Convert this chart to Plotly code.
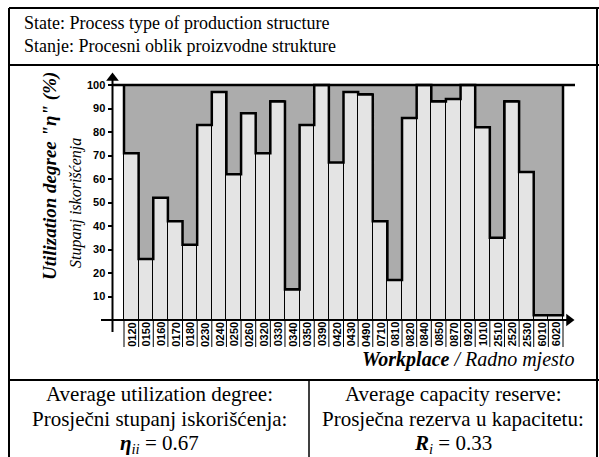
import plotly.graph_objects as go

# workplaces and their utilization degree (%)
workplaces = ["0120", "0150", "0160", "0170", "0180", "0230", "0240", "0250", "0260", "0320",
              "0330", "0340", "0350", "0390", "0420", "0430", "0490", "0710", "0810", "0820",
              "0840", "0850", "0870", "0920", "1010", "2510", "2520", "2530", "6010", "6020"]
utilization = [71, 26, 52, 42, 32, 83, 97, 62, 88, 71,
               93, 13, 83, 100, 67, 97, 96, 42, 17, 86,
               100, 93, 94, 100, 82, 35, 93, 63, 2, 2]
y_ticks = [10, 20, 30, 40, 50, 60, 70, 80, 90, 100]
avg_utilization = 0.67
avg_reserve = 0.33

W, H = 599, 457
n = len(workplaces)
X0_PX, UNIT_PX = 124, 439 / n      # pixel of x=0 and px per bar
Y0_PX, YUNIT_PX = 320, 2.35        # pixel of y=0 and px per percent


def px(x):
    return x / W


def py(y):
    return 1 - y / H


def dx(pix):
    return (pix - X0_PX) / UNIT_PX


def dy(pix):
    return (Y0_PX - pix) / YUNIT_PX


centers = [i + 0.5 for i in range(n)]
reserve = [100 - v for v in utilization]

serif = "Liberation Serif, Times New Roman, serif"
sans = "Liberation Sans, Arial, sans-serif"

fig = go.Figure()

fig.add_trace(go.Bar(x=centers, y=reserve, base=utilization, width=1,
                     marker=dict(color="#acacac", line=dict(width=0))))
fig.add_trace(go.Bar(x=centers, y=utilization, width=1,
                     marker=dict(color="#e4e4e4", line=dict(color="black", width=1))))

# step outline of the reserve area
sx, sy = [0], [100]
for i, v in enumerate(utilization):
    sx += [i, i + 1]
    sy += [v, v]
sx.append(n)
sy.append(100)
fig.add_trace(go.Scatter(x=sx, y=sy, mode="lines", line=dict(color="black", width=2.5)))

# label cells under the axis
cell_bottom = dy(347)
cx, cy = [], []
for e in range(n + 1):
    cx += [e, e, None]
    cy += [0, cell_bottom, None]
fig.add_trace(go.Scatter(x=cx, y=cy, mode="lines", line=dict(color="black", width=1)))

# axes lines, top line and arrows
ax_x = dx(112.5)
fig.add_trace(go.Scatter(x=[ax_x, ax_x], y=[dy(332), dy(78)], mode="lines",
                         line=dict(color="black", width=2)))
fig.add_trace(go.Scatter(x=[dx(101), dx(570)], y=[0, 0], mode="lines",
                         line=dict(color="black", width=2)))
fig.add_trace(go.Scatter(x=[ax_x, dx(575)], y=[100, 100], mode="lines",
                         line=dict(color="black", width=2.5)))
fig.add_trace(go.Scatter(x=[ax_x], y=[dy(78)], mode="markers",
                         marker=dict(symbol="triangle-up", size=11, color="black")))
fig.add_trace(go.Scatter(x=[dx(569)], y=[0], mode="markers",
                         marker=dict(symbol="triangle-right", size=11, color="black")))

for c, w in zip(centers, workplaces):
    fig.add_annotation(x=c, y=dy(334.5), text=w, textangle=-90, showarrow=False,
                       xanchor="center", yanchor="middle",
                       font=dict(family=sans, size=11, color="black", weight="bold"))

# frame and separators
line_k = dict(color="black", width=2)
fig.add_shape(type="line", xref="paper", yref="paper", x0=px(9), x1=px(599), y0=py(8), y1=py(8), line=line_k)
fig.add_shape(type="line", xref="paper", yref="paper", x0=px(9), x1=px(9), y0=py(8), y1=0, line=line_k)
fig.add_shape(type="line", xref="paper", yref="paper", x0=px(597), x1=px(597), y0=py(8), y1=0, line=line_k)
fig.add_shape(type="line", xref="paper", yref="paper", x0=px(9), x1=px(599), y0=py(65), y1=py(65), line=line_k)
fig.add_shape(type="line", xref="paper", yref="paper", x0=px(9), x1=px(599), y0=py(380), y1=py(380), line=line_k)
fig.add_shape(type="line", xref="paper", yref="paper", x0=px(309), x1=px(309), y0=py(380), y1=0,
              line=dict(color="black", width=1.5))

fig.add_annotation(xref="paper", yref="paper", x=px(22), y=py(35), xanchor="left", yanchor="middle",
                   align="left", showarrow=False,
                   text="State: Process type of production structure<br>Stanje: Procesni oblik proizvodne strukture",
                   font=dict(family=serif, size=18, color="black"))

fig.add_annotation(xref="paper", yref="paper", x=px(50), y=py(176), textangle=-90, showarrow=False,
                   xanchor="center", yanchor="middle",
                   text="<b><i>Utilization degree \"η\" (%)</i></b>",
                   font=dict(family=serif, size=19, color="black"))
fig.add_annotation(xref="paper", yref="paper", x=px(76), y=py(203), textangle=-90, showarrow=False,
                   xanchor="center", yanchor="middle",
                   text="<i>Stupanj iskorišćenja</i>",
                   font=dict(family=serif, size=16, color="black"))

fig.add_annotation(xref="paper", yref="paper", x=px(576), y=py(359), xanchor="right", yanchor="middle",
                   showarrow=False,
                   text="<b><i>Workplace</i></b><i> / Radno mjesto</i>",
                   font=dict(family=serif, size=20, color="black"))

left_lines = ["Average utilization degree:", "Prosječni stupanj iskorišćenja:",
              f"<b><i>η</i></b><sub><i>ii</i></sub> = {avg_utilization:.2f}"]
right_lines = ["Average capacity reserve:", "Prosječna rezerva u kapacitetu:",
               f"<b><i>R</i></b><sub><i>i</i></sub> = {avg_reserve:.2f}"]
for k, (lt, rt) in enumerate(zip(left_lines, right_lines)):
    yk = py(394 + 25 * k)
    fig.add_annotation(xref="paper", yref="paper", x=px(159), y=yk, showarrow=False,
                       xanchor="center", yanchor="middle", text=lt,
                       font=dict(family=serif, size=21, color="black"))
    fig.add_annotation(xref="paper", yref="paper", x=px(453), y=yk, showarrow=False,
                       xanchor="center", yanchor="middle", text=rt,
                       font=dict(family=serif, size=21, color="black"))

fig.update_layout(
    width=W, height=H, autosize=False,
    margin=dict(l=0, r=0, t=0, b=0),
    paper_bgcolor="white", plot_bgcolor="white",
    barmode="overlay", bargap=0, showlegend=False,
    xaxis=dict(range=[dx(0), dx(W)], visible=False, fixedrange=True, automargin=False),
    yaxis=dict(range=[dy(H), dy(0)], anchor="free", position=px(112.5), side="left",
               tickvals=y_ticks, ticks="outside", ticklen=5, tickwidth=1.5, tickcolor="black",
               showline=False, showgrid=False, zeroline=False, automargin=False, fixedrange=True,
               tickfont=dict(family=sans, size=11, color="black", weight="bold")),
)

fig.write_html("out.html", config={"displayModeBar": False},
               post_script="document.body.style.margin='0';")
